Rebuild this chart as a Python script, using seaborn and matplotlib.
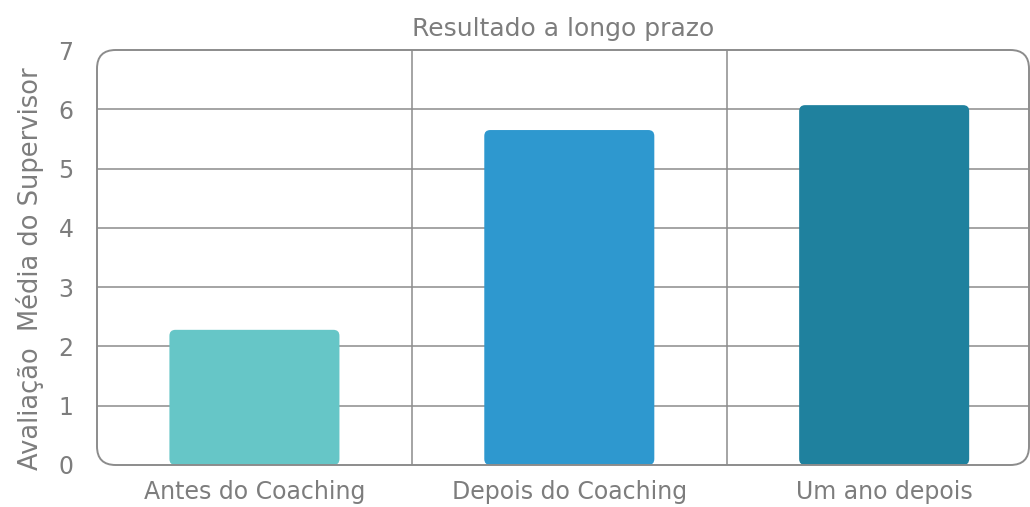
import matplotlib
matplotlib.use('Agg')
import pandas as pd
import matplotlib.pyplot as plt
import seaborn as sns
from matplotlib.patches import FancyBboxPatch

# data
categories = ['Antes do Coaching', 'Depois do Coaching', 'Um ano depois']
scores = [2.28, 5.65, 6.07]
bar_colors = ['#66c6c7', '#2e98cf', '#1f819e']

df = pd.DataFrame({'fase': categories, 'media': scores})

sns.set_theme(style='white')
plt.rcParams['font.family'] = ['DejaVu Sans']
text_color = '#7d7d7d'
grid_color = '#8c8c8c'

fig = plt.figure(figsize=(10.3, 5.07), dpi=100)
ax = fig.add_axes([97 / 1030, 42 / 507, 932 / 1030, 415 / 507])

sns.barplot(data=df, x='fase', y='media', hue='fase', palette=bar_colors,
            saturation=1, width=0.54, legend=False, ax=ax, zorder=3)

ax.set_ylim(0, 7)
ax.set_xlim(-0.5, 2.46)

# rounded bar corners
px_x = 932 / 2.96  # pixels per x unit
px_y = 415 / 7     # pixels per y unit
for patch in list(ax.patches):
    x0, y0 = patch.get_x(), patch.get_y()
    w, h = patch.get_width(), patch.get_height()
    color = patch.get_facecolor()
    patch.remove()
    r = FancyBboxPatch((x0, y0), w, h,
                       boxstyle='round,pad=0,rounding_size=%f' % (6 / px_x),
                       mutation_aspect=px_x / px_y,
                       facecolor=color, edgecolor='none', zorder=3)
    ax.add_patch(r)

# grid
for yv in range(1, 7):
    ax.axhline(yv, color=grid_color, lw=1.1, zorder=1)
for xv in [0.5, 1.5]:
    ax.axvline(xv, color=grid_color, lw=1.1, zorder=1)

# rounded frame
for s in ax.spines.values():
    s.set_visible(False)
frame = FancyBboxPatch((0, 0), 1, 1, transform=ax.transAxes,
                       boxstyle='round,pad=0,rounding_size=0.02',
                       mutation_aspect=932 / 415,
                       facecolor='none', edgecolor=grid_color, lw=1.4,
                       zorder=4, clip_on=False)
ax.add_patch(frame)

ax.set_yticks(range(0, 8))
ax.tick_params(axis='y', length=0, pad=17, labelsize=17, labelcolor=text_color)
ax.tick_params(axis='x', length=0, pad=11, labelsize=17, labelcolor=text_color)
ax.set_xlabel('')
ax.set_ylabel('Avaliação  Média do Supervisor', fontsize=18.5, color=text_color)
ax.yaxis.set_label_coords(-0.057, 0.472)
ax.set_title('Resultado a longo prazo', fontsize=18, color=text_color, pad=10)

fig.savefig('out.png', dpi=100)
